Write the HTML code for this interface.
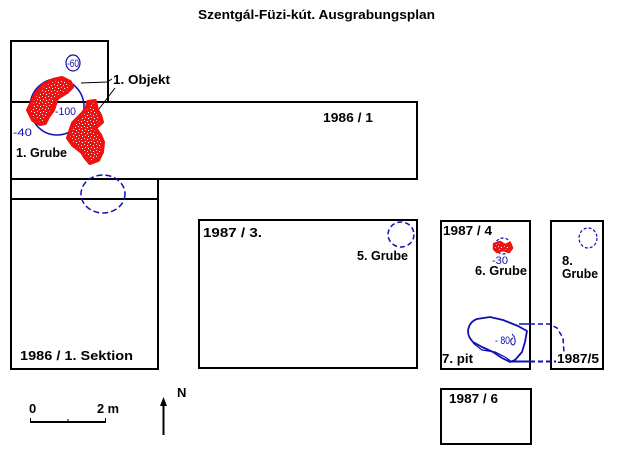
<!DOCTYPE html>
<html><head><meta charset="utf-8"><style>
html,body{margin:0;padding:0;background:#fff;}
svg{display:block;}
.t{font-family:"Liberation Sans",Arial,sans-serif;font-weight:bold;font-size:13px;fill:#000;}
.b{font-family:"Liberation Sans",Arial,sans-serif;font-size:11px;fill:#1010b0;}
</style></head><body>
<svg width="625" height="469" viewBox="0 0 625 469" xmlns="http://www.w3.org/2000/svg">
<defs>
<pattern id="sp" width="6" height="6" patternUnits="userSpaceOnUse">
<rect width="6" height="6" fill="#f01010"/>
<rect x="0" y="0" width="1" height="1" fill="#ffd0d0"/>
<rect x="3" y="1" width="1" height="1" fill="#fff"/>
<rect x="1" y="3" width="1" height="1" fill="#ffe0e0"/>
<rect x="4" y="4" width="1" height="1" fill="#fff"/>
</pattern>
</defs>
<rect width="625" height="469" fill="#fff"/>

<!-- title -->
<text class="t" x="198" y="19" textLength="237" lengthAdjust="spacingAndGlyphs">Szentgál-Füzi-kút.  Ausgrabungsplan</text>

<!-- boxes -->
<g fill="none" stroke="#000" stroke-width="2">
<rect x="11" y="41" width="97" height="61"/>
<rect x="11" y="102" width="406" height="77"/>
<rect x="11" y="179" width="147" height="20"/>
<rect x="11" y="199" width="147" height="170"/>
<rect x="199" y="220" width="218" height="148"/>
<rect x="441" y="221" width="89" height="148"/>
<rect x="551" y="221" width="52" height="148"/>
<rect x="441" y="389" width="90" height="55"/>
</g>

<!-- blue circle grube 1 -->
<ellipse cx="57" cy="107" rx="27" ry="28" fill="none" stroke="#1010b0" stroke-width="1.5"/>
<ellipse cx="73" cy="63" rx="7" ry="8" fill="none" stroke="#1010b0" stroke-width="1.2"/>

<!-- red blobs -->
<polygon points="43,85 53,80 62,78 70,82 72,87 67,92 57,98 53,110 48,117 45,123 40,124 33,120 28,110 32,102 35,95" fill="url(#sp)" stroke="#f01010" stroke-width="4" stroke-linejoin="round"/>
<polygon points="88,102 95,101 97,110 100,115 102,122 95,128 100,135 103,142 102,152 98,160 90,163 85,157 82,152 73,145 68,138 70,132 73,123 83,113 87,107" fill="url(#sp)" stroke="#f01010" stroke-width="4" stroke-linejoin="round"/>

<!-- blue labels grube 1 -->
<text class="b" x="67" y="67" textLength="12" lengthAdjust="spacingAndGlyphs">-60</text>
<text class="b" x="55" y="115" textLength="21" lengthAdjust="spacingAndGlyphs">-100</text>
<text class="b" x="13" y="136" textLength="19" lengthAdjust="spacingAndGlyphs">-40</text>

<!-- leaders -->
<polyline points="81,83 107,82 112,79" fill="none" stroke="#000" stroke-width="1"/>
<line x1="115" y1="88" x2="99" y2="109" stroke="#000" stroke-width="1"/>
<text class="t" x="113" y="84" textLength="57" lengthAdjust="spacingAndGlyphs">1. Objekt</text>
<text class="t" x="16" y="157" textLength="51" lengthAdjust="spacingAndGlyphs">1. Grube</text>
<text class="t" x="323" y="122" textLength="50" lengthAdjust="spacingAndGlyphs">1986 / 1</text>

<!-- sektion dashed circle -->
<ellipse cx="103" cy="194" rx="22" ry="19" fill="none" stroke="#1010b0" stroke-width="1.5" stroke-dasharray="6,3"/>
<text class="t" x="20" y="360" textLength="113" lengthAdjust="spacingAndGlyphs">1986 / 1.  Sektion</text>

<!-- 1987/3 -->
<text class="t" x="203" y="237" textLength="59" lengthAdjust="spacingAndGlyphs">1987 / 3.</text>
<ellipse cx="401" cy="234.5" rx="13" ry="12.5" fill="none" stroke="#1010b0" stroke-width="1.5" stroke-dasharray="5,3"/>
<text class="t" x="357" y="260" textLength="51" lengthAdjust="spacingAndGlyphs">5. Grube</text>

<!-- 1987/4 -->
<text class="t" x="443" y="235" textLength="49" lengthAdjust="spacingAndGlyphs">1987 / 4</text>
<circle cx="503" cy="246" r="8" fill="none" stroke="#1010b0" stroke-width="1.2" stroke-dasharray="3,2"/>
<polygon points="494,244 500,242 505,245 510,243 512,248 509,252 503,250 497,252 494,249" fill="url(#sp)" stroke="#f01010" stroke-width="2.5" stroke-linejoin="round"/>
<text class="b" x="492" y="264" textLength="16" lengthAdjust="spacingAndGlyphs">-30</text>
<text class="t" x="475" y="275" textLength="52" lengthAdjust="spacingAndGlyphs">6. Grube</text>

<!-- 1987/5 -->
<ellipse cx="588" cy="238" rx="9" ry="10" fill="none" stroke="#1010b0" stroke-width="1.2" stroke-dasharray="3,2"/>
<text class="t" x="562" y="265">8.</text>
<text class="t" x="562" y="278" textLength="36" lengthAdjust="spacingAndGlyphs">Grube</text>

<!-- pit 7 -->
<path d="M468,331 Q469,322 477,319 L490,317 L503,320 L518,326 L527,331 L525,342 L522,352 L515,360 L510,362 L502,358 L493,352 L482,347 L473,342 Q468,337 468,331 Z" fill="none" stroke="#1010b0" stroke-width="1.8" stroke-linejoin="round"/>
<polyline points="473,343 482,350 495,352 505,357 512,362" fill="none" stroke="#1010b0" stroke-width="1.2"/>
<line x1="519" y1="324" x2="530" y2="324" stroke="#1010b0" stroke-width="1.5"/>
<line x1="510" y1="361.5" x2="530" y2="361.5" stroke="#1010b0" stroke-width="2"/>
<polyline points="530,324 549,324 557,328 563,338 564,353" fill="none" stroke="#1010b0" stroke-width="1.5" stroke-dasharray="5,3"/>
<line x1="530" y1="361.5" x2="556" y2="361.5" stroke="#1010b0" stroke-width="2" stroke-dasharray="5,3"/>
<text class="b" x="495" y="344" textLength="15" lengthAdjust="spacingAndGlyphs">- 80</text>
<path d="M512,334 Q516,338 515,343 Q513,347 511,343 Q510,339 513,338" fill="none" stroke="#1010b0" stroke-width="1"/>
<text class="t" x="442" y="363" textLength="31" lengthAdjust="spacingAndGlyphs">7. pit</text>
<text class="t" x="557" y="363" textLength="42" lengthAdjust="spacingAndGlyphs">1987/5</text>

<!-- 1987/6 -->
<text class="t" x="449" y="403" textLength="49" lengthAdjust="spacingAndGlyphs">1987 / 6</text>

<!-- scale -->
<text class="t" x="29" y="413">0</text>
<text class="t" x="97" y="413" textLength="22" lengthAdjust="spacingAndGlyphs">2 m</text>
<line x1="30" y1="422" x2="106" y2="422" stroke="#000" stroke-width="2"/>
<line x1="30.5" y1="418" x2="30.5" y2="422" stroke="#000" stroke-width="1"/>
<line x1="68" y1="419" x2="68" y2="422" stroke="#000" stroke-width="1"/>
<line x1="105.5" y1="418" x2="105.5" y2="422" stroke="#000" stroke-width="1"/>

<!-- north arrow -->
<line x1="163.5" y1="402" x2="163.5" y2="435" stroke="#000" stroke-width="2"/>
<polygon points="163.5,397 160,406 167,406" fill="#000"/>
<text class="t" x="177" y="397">N</text>
</svg>
</body></html>
